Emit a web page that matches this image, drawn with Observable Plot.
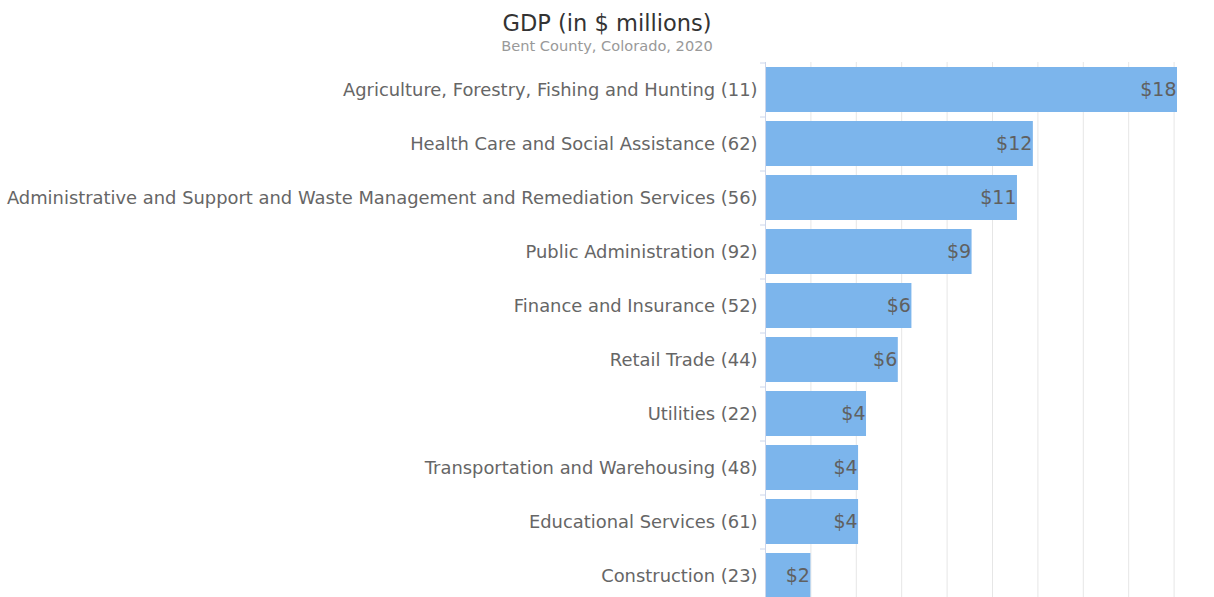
<!DOCTYPE html>
<html>
<head>
<meta charset="utf-8">
<script src="https://cdn.jsdelivr.net/npm/d3@7"></script>
<script src="https://cdn.jsdelivr.net/npm/@observablehq/plot@0.6"></script>
<style>
  html, body { margin: 0; padding: 0; background: #fff; overflow: hidden; }
  #wrap { position: relative; width: 1214px; height: 597px; font-family: "DejaVu Sans", sans-serif; }
  #title { position: absolute; left: 0; width: 1214px; top: 9px; text-align: center; font-size: 22.5px; color: #333; line-height: 28px; }
  #subtitle { position: absolute; left: 0; width: 1214px; top: 37px; text-align: center; font-size: 14.6px; color: #999; line-height: 18px; }
  #chart { position: absolute; left: 0; top: 0; }
</style>
</head>
<body>
<div id="wrap">
  <div id="chart"></div>
  <div id="title">GDP (in $ millions)</div>
  <div id="subtitle">Bent County, Colorado, 2020</div>
</div>
<script>
const industries = [
  "Agriculture, Forestry, Fishing and Hunting",
  "Health Care and Social Assistance",
  "Administrative and Support and Waste Management and Remediation Services",
  "Public Administration",
  "Finance and Insurance",
  "Retail Trade",
  "Utilities",
  "Transportation and Warehousing",
  "Educational Services",
  "Construction"
];
const naicsCodes = [11, 62, 56, 92, 52, 44, 22, 48, 61, 23];
const gdpMillions = [18.15, 11.8, 11.1, 9.1, 6.45, 5.85, 4.45, 4.1, 4.1, 2.0];
const xTicks = [0, 2, 4, 6, 8, 10, 12, 14, 16, 18];

const rows = industries.map((name, i) => ({
  label: `${name} (${naicsCodes[i]})`,
  value: gdpMillions[i]
}));
const order = rows.map(d => d.label);

const marginTop = 62, step = 54;
const height = marginTop + step * order.length + 10;

const chart = Plot.plot({
  width: 1214,
  height,
  marginTop,
  marginBottom: 10,
  marginLeft: 765,
  marginRight: 17.7,
  style: { fontFamily: "DejaVu Sans, sans-serif", background: "transparent" },
  x: { domain: [0, 19], axis: null },
  y: { domain: order, paddingInner: 0.17, paddingOuter: 0.085, axis: null },
  marks: [
    Plot.gridX(xTicks, { stroke: "#e6e6e6", strokeOpacity: 1, strokeWidth: 1 }),
    Plot.barX(rows, { x: "value", y: "label", fill: "#7cb5ec" }),
    Plot.axisY({ tickSize: 5, text: null, label: null, dy: -step / 2, stroke: "#ccd6eb", strokeOpacity: 1 }),
    Plot.axisY({ tickSize: 0, tickPadding: 8, fontSize: 17.9, fill: "#666", textAnchor: "end", label: null }),
    Plot.ruleX([0], { stroke: "#ccd6eb", strokeWidth: 1 }),
    Plot.text(rows, {
      x: "value", y: "label",
      text: d => "$" + Math.round(d.value),
      textAnchor: "end", dx: -1, fontSize: 19, fill: "#606060"
    })
  ]
});
document.getElementById("chart").appendChild(chart);
</script>
</body>
</html>
